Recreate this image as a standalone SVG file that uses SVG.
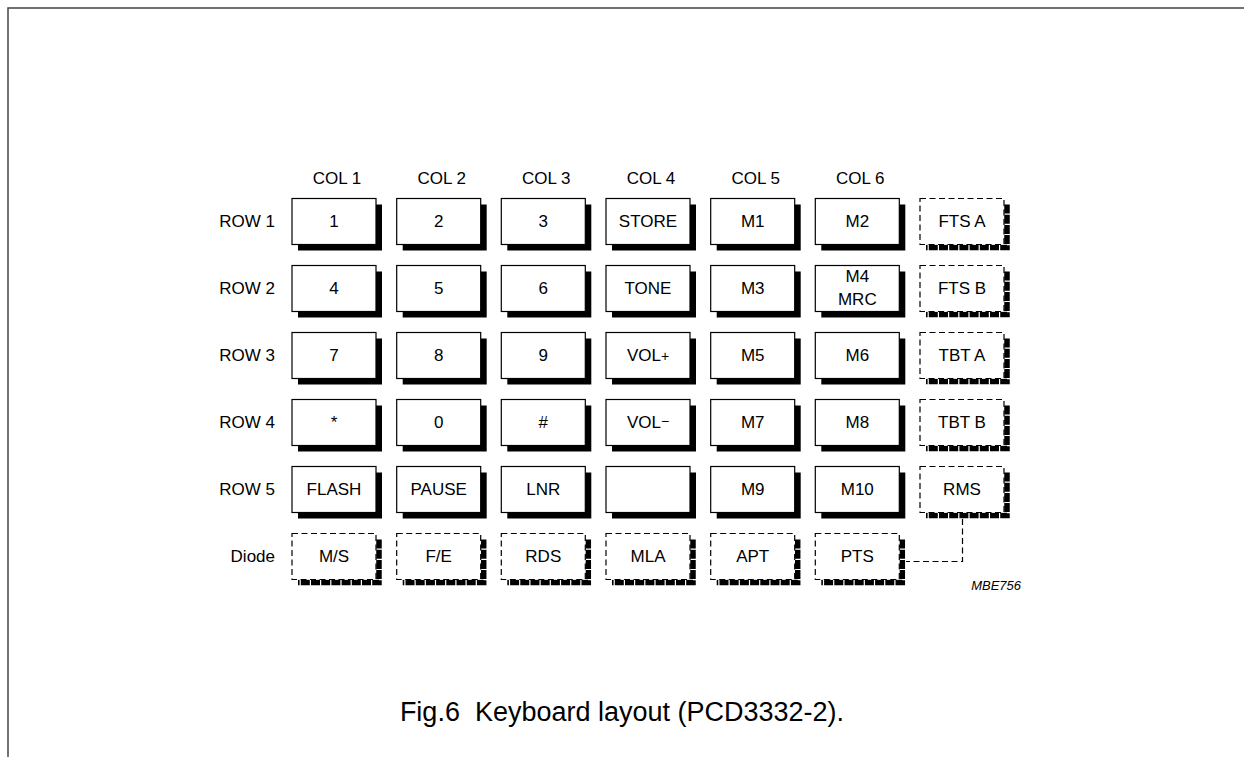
<svg xmlns="http://www.w3.org/2000/svg" width="1244" height="757" viewBox="0 0 1244 757">
<style>
.sh{fill:#000}
.k{fill:#fff;stroke:#000;stroke-width:1.2}
.kd{fill:#fff;stroke:#000;stroke-width:1.2;stroke-dasharray:6 3.5}
.shd{fill:none;stroke:#000;stroke-width:5.5;stroke-dasharray:9 1.2}
.t{font-family:"Liberation Sans",Arial,sans-serif;font-size:17px;fill:#000}
.c{text-anchor:middle}
.e{text-anchor:end}
.id{font-size:13px;font-style:italic}
.cap{font-size:27px}
.conn{fill:none;stroke:#000;stroke-width:1.2;stroke-dasharray:6 3.5}
</style>
<defs>
<g id="solid"><rect class="sh" x="6" y="6" width="84" height="46"/><rect class="k" x="0" y="0" width="84" height="46"/></g>
<g id="dashed"><path class="shd" d="M87 6V49H6"/><rect class="kd" x="0" y="0" width="84" height="46"/></g>
</defs>
<rect x="0" y="0" width="1244" height="757" fill="#fff"/>
<path d="M8 757V8H1244" fill="none" stroke="#444" stroke-width="1.5"/>

<g id="col-labels" class="t c">
<text x="337" y="184">COL 1</text>
<text x="441.7" y="184">COL 2</text>
<text x="546.3" y="184">COL 3</text>
<text x="651" y="184">COL 4</text>
<text x="755.7" y="184">COL 5</text>
<text x="860.3" y="184">COL 6</text>
</g>
<g id="row-labels" class="t e">
<text x="275" y="227">ROW 1</text>
<text x="275" y="294">ROW 2</text>
<text x="275" y="361">ROW 3</text>
<text x="275" y="428">ROW 4</text>
<text x="275" y="495">ROW 5</text>
<text x="275" y="562">Diode</text>
</g>

<g id="connectors">
<path class="conn" d="M962.5 519V561.5H906"/>
</g>

<!-- Row 1 -->
<g id="k-1" transform="translate(292,198.5)"><use href="#solid"/><text class="t c" x="42" y="28.5">1</text></g>
<g id="k-2" transform="translate(396.7,198.5)"><use href="#solid"/><text class="t c" x="42" y="28.5">2</text></g>
<g id="k-3" transform="translate(501.3,198.5)"><use href="#solid"/><text class="t c" x="42" y="28.5">3</text></g>
<g id="k-store" transform="translate(606,198.5)"><use href="#solid"/><text class="t c" x="42" y="28.5">STORE</text></g>
<g id="k-m1" transform="translate(710.7,198.5)"><use href="#solid"/><text class="t c" x="42" y="28.5">M1</text></g>
<g id="k-m2" transform="translate(815.3,198.5)"><use href="#solid"/><text class="t c" x="42" y="28.5">M2</text></g>
<g id="k-ftsa" transform="translate(920,198.5)"><use href="#dashed"/><text class="t c" x="42" y="28.5">FTS A</text></g>
<!-- Row 2 -->
<g id="k-4" transform="translate(292,265.5)"><use href="#solid"/><text class="t c" x="42" y="28.5">4</text></g>
<g id="k-5" transform="translate(396.7,265.5)"><use href="#solid"/><text class="t c" x="42" y="28.5">5</text></g>
<g id="k-6" transform="translate(501.3,265.5)"><use href="#solid"/><text class="t c" x="42" y="28.5">6</text></g>
<g id="k-tone" transform="translate(606,265.5)"><use href="#solid"/><text class="t c" x="42" y="28.5">TONE</text></g>
<g id="k-m3" transform="translate(710.7,265.5)"><use href="#solid"/><text class="t c" x="42" y="28.5">M3</text></g>
<g id="k-m4" transform="translate(815.3,265.5)"><use href="#solid"/><text class="t c" x="42" y="16.5">M4</text><text class="t c" x="42" y="39.5">MRC</text></g>
<g id="k-ftsb" transform="translate(920,265.5)"><use href="#dashed"/><text class="t c" x="42" y="28.5">FTS B</text></g>
<!-- Row 3 -->
<g id="k-7" transform="translate(292,332.5)"><use href="#solid"/><text class="t c" x="42" y="28.5">7</text></g>
<g id="k-8" transform="translate(396.7,332.5)"><use href="#solid"/><text class="t c" x="42" y="28.5">8</text></g>
<g id="k-9" transform="translate(501.3,332.5)"><use href="#solid"/><text class="t c" x="42" y="28.5">9</text></g>
<g id="k-volp" transform="translate(606,332.5)"><use href="#solid"/><text class="t c" x="42" y="28.5">VOL<tspan font-size="14">+</tspan></text></g>
<g id="k-m5" transform="translate(710.7,332.5)"><use href="#solid"/><text class="t c" x="42" y="28.5">M5</text></g>
<g id="k-m6" transform="translate(815.3,332.5)"><use href="#solid"/><text class="t c" x="42" y="28.5">M6</text></g>
<g id="k-tbta" transform="translate(920,332.5)"><use href="#dashed"/><text class="t c" x="42" y="28.5">TBT A</text></g>
<!-- Row 4 -->
<g id="k-star" transform="translate(292,399.5)"><use href="#solid"/><text class="t c" x="42" y="28.5">*</text></g>
<g id="k-0" transform="translate(396.7,399.5)"><use href="#solid"/><text class="t c" x="42" y="28.5">0</text></g>
<g id="k-hash" transform="translate(501.3,399.5)"><use href="#solid"/><text class="t c" x="42" y="28.5">#</text></g>
<g id="k-volm" transform="translate(606,399.5)"><use href="#solid"/><text class="t c" x="42" y="28.5">VOL<tspan font-size="14" dy="-2">−</tspan></text></g>
<g id="k-m7" transform="translate(710.7,399.5)"><use href="#solid"/><text class="t c" x="42" y="28.5">M7</text></g>
<g id="k-m8" transform="translate(815.3,399.5)"><use href="#solid"/><text class="t c" x="42" y="28.5">M8</text></g>
<g id="k-tbtb" transform="translate(920,399.5)"><use href="#dashed"/><text class="t c" x="42" y="28.5">TBT B</text></g>
<!-- Row 5 -->
<g id="k-flash" transform="translate(292,466.5)"><use href="#solid"/><text class="t c" x="42" y="28.5">FLASH</text></g>
<g id="k-pause" transform="translate(396.7,466.5)"><use href="#solid"/><text class="t c" x="42" y="28.5">PAUSE</text></g>
<g id="k-lnr" transform="translate(501.3,466.5)"><use href="#solid"/><text class="t c" x="42" y="28.5">LNR</text></g>
<g id="k-blank" transform="translate(606,466.5)"><use href="#solid"/></g>
<g id="k-m9" transform="translate(710.7,466.5)"><use href="#solid"/><text class="t c" x="42" y="28.5">M9</text></g>
<g id="k-m10" transform="translate(815.3,466.5)"><use href="#solid"/><text class="t c" x="42" y="28.5">M10</text></g>
<g id="k-rms" transform="translate(920,466.5)"><use href="#dashed"/><text class="t c" x="42" y="28.5">RMS</text></g>
<!-- Diode row -->
<g id="k-ms" transform="translate(292,533.5)"><use href="#dashed"/><text class="t c" x="42" y="28.5">M/S</text></g>
<g id="k-fe" transform="translate(396.7,533.5)"><use href="#dashed"/><text class="t c" x="42" y="28.5">F/E</text></g>
<g id="k-rds" transform="translate(501.3,533.5)"><use href="#dashed"/><text class="t c" x="42" y="28.5">RDS</text></g>
<g id="k-mla" transform="translate(606,533.5)"><use href="#dashed"/><text class="t c" x="42" y="28.5">MLA</text></g>
<g id="k-apt" transform="translate(710.7,533.5)"><use href="#dashed"/><text class="t c" x="42" y="28.5">APT</text></g>
<g id="k-pts" transform="translate(815.3,533.5)"><use href="#dashed"/><text class="t c" x="42" y="28.5">PTS</text></g>

<text class="t e id" x="1021" y="590">MBE756</text>
<text id="caption" class="t c cap" x="622" y="721" xml:space="preserve">Fig.6  Keyboard layout (PCD3332-2).</text>
</svg>
